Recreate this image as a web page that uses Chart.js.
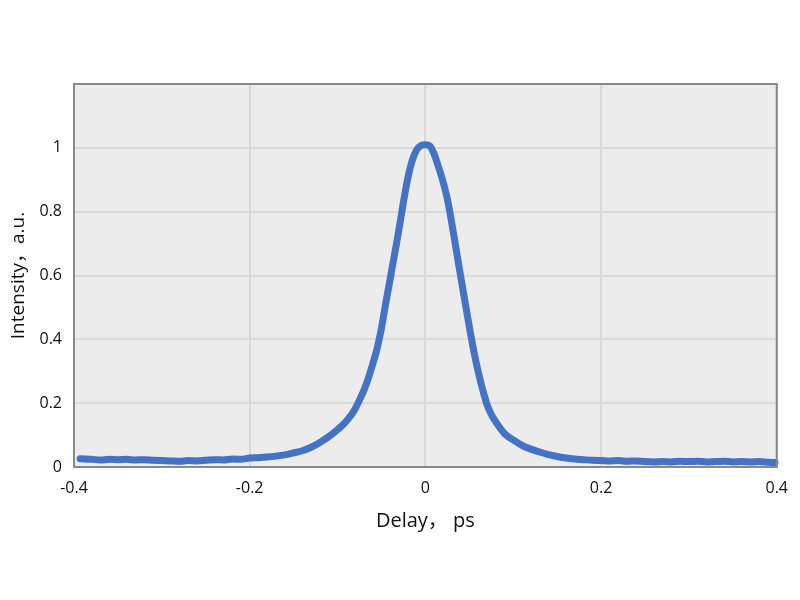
<!DOCTYPE html>
<html>
<head>
<meta charset="utf-8">
<script src="https://cdn.jsdelivr.net/npm/chart.js@4"></script>
<style>
  html, body { margin: 0; padding: 0; background: #fff; }
  #wrap { width: 800px; height: 600px; }
</style>
</head>
<body>
<div id="wrap"><canvas id="chart" width="800" height="600"></canvas></div>
<script>
// autocorrelation trace
const delays = [
  -0.393, -0.38, -0.37, -0.36, -0.35, -0.34, -0.33, -0.32, -0.31, -0.30,
  -0.29, -0.28, -0.27, -0.26, -0.25, -0.24, -0.23, -0.22, -0.21, -0.20,
  -0.19, -0.18, -0.17, -0.16, -0.15, -0.14, -0.13, -0.12, -0.11, -0.10,
  -0.09, -0.08, -0.075, -0.07, -0.065, -0.06, -0.055, -0.05, -0.045, -0.04,
  -0.035, -0.03, -0.025, -0.02, -0.015, -0.01, -0.005, 0,
  0.005, 0.01, 0.015, 0.02, 0.025, 0.03, 0.035, 0.04, 0.045, 0.05,
  0.055, 0.06, 0.065, 0.07, 0.075, 0.08, 0.09, 0.10, 0.11, 0.12,
  0.13, 0.14, 0.15, 0.16, 0.17, 0.18, 0.19, 0.20, 0.21, 0.22,
  0.23, 0.24, 0.25, 0.26, 0.27, 0.28, 0.29, 0.30, 0.31, 0.32,
  0.33, 0.34, 0.35, 0.36, 0.37, 0.38, 0.39, 0.398
];
const intensity = [
  0.026, 0.024, 0.022, 0.024, 0.023, 0.024, 0.022, 0.023, 0.021, 0.020,
  0.019, 0.018, 0.020, 0.019, 0.021, 0.023, 0.022, 0.025, 0.024, 0.028,
  0.029, 0.031, 0.034, 0.038, 0.044, 0.051, 0.062, 0.077, 0.095, 0.117,
  0.143, 0.182, 0.21, 0.24, 0.278, 0.322, 0.37, 0.435, 0.515, 0.59,
  0.668, 0.745, 0.83, 0.905, 0.96, 0.993, 1.007, 1.01,
  1.006, 0.98, 0.94, 0.895, 0.84, 0.765, 0.683, 0.60, 0.52, 0.44,
  0.365, 0.30, 0.245, 0.197, 0.165, 0.142, 0.105, 0.085, 0.068, 0.056,
  0.047, 0.039, 0.033, 0.028, 0.025, 0.023, 0.021, 0.020, 0.019, 0.020,
  0.018, 0.019, 0.017, 0.016, 0.017, 0.016, 0.018, 0.017, 0.018, 0.016,
  0.017, 0.018, 0.016, 0.017, 0.016, 0.017, 0.015, 0.014
];
const xTicks = [-0.4, -0.2, 0, 0.2, 0.4];
const yTicks = [0, 0.2, 0.4, 0.6, 0.8, 1];

const FONT = "'Open Sans', 'Noto Sans', 'Noto Sans CJK SC', sans-serif";

// grey plot background and frame
const plotFrame = {
  id: "plotFrame",
  beforeDraw(chart) {
    const { ctx, chartArea: a } = chart;
    ctx.save();
    ctx.fillStyle = "#ececec";
    ctx.fillRect(a.left, a.top, a.right - a.left, a.bottom - a.top);
    ctx.restore();
  },
  afterDatasetsDraw(chart) {
    const { ctx, chartArea: a } = chart;
    ctx.save();
    ctx.strokeStyle = "#898989";
    ctx.lineWidth = 2;
    ctx.strokeRect(a.left, a.top, a.right - a.left, a.bottom - a.top);
    ctx.restore();
  }
};

new Chart(document.getElementById("chart"), {
  type: "line",
  data: {
    datasets: [{
      data: delays.map((d, i) => ({ x: d, y: intensity[i] })),
      borderColor: "#4472c4",
      borderWidth: 7,
      pointRadius: 0,
      cubicInterpolationMode: "monotone",
      borderCapStyle: "round",
      borderJoinStyle: "round",
      clip: false
    }]
  },
  options: {
    responsive: false,
    animation: false,
    layout: { padding: { left: 0, right: 23, top: 84, bottom: 67 } },
    plugins: { legend: { display: false }, tooltip: { enabled: false } },
    scales: {
      x: {
        type: "linear",
        min: -0.4,
        max: 0.4,
        afterBuildTicks: s => { s.ticks = xTicks.map(v => ({ value: v })); },
        afterFit: s => { s.height = 66; },
        grid: { color: "#d9d9d9", lineWidth: 2, drawTicks: false },
        border: { display: false },
        ticks: {
          padding: 12,
          color: "#111",
          font: { family: FONT, size: 16 },
          callback: v => String(v)
        },
        title: {
          display: true,
          text: "Delay， ps",
          color: "#111",
          font: { family: FONT, size: 20 },
          padding: { top: 0, bottom: 0 }
        }
      },
      y: {
        min: 0,
        max: 1.2,
        afterBuildTicks: s => { s.ticks = yTicks.map(v => ({ value: v })); },
        afterFit: s => { s.width = 74; },
        grid: { color: "#d9d9d9", lineWidth: 2, drawTicks: false },
        border: { display: false },
        ticks: {
          padding: 12,
          color: "#111",
          font: { family: FONT, size: 16 },
          callback: v => String(v)
        },
        title: {
          display: true,
          text: "Intensity，a.u.",
          color: "#111",
          font: { family: FONT, size: 19 },
          padding: { top: 7, bottom: 0 }
        }
      }
    }
  },
  plugins: [plotFrame]
});
</script>
</body>
</html>
